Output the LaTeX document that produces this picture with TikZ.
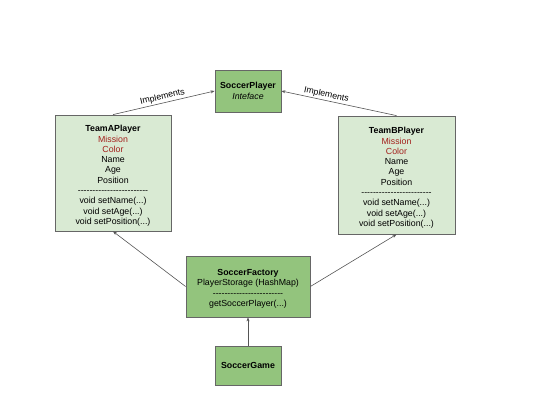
\documentclass[tikz,border=0pt]{standalone}
\usepackage{fontspec}
\setmainfont{Liberation Sans}
\usepackage{tikz}
\usetikzlibrary{arrows.meta,positioning}
\usepackage{xcolor}
\definecolor{lightgreen}{HTML}{D9EAD3}
\definecolor{midgreen}{HTML}{93C47D}
\definecolor{boxgray}{HTML}{666666}
\definecolor{linegray}{HTML}{555555}
\definecolor{fieldred}{HTML}{A3201C}
% a row of plain hyphens (no en-dash ligature)
\newcommand{\sepline}[1]{\foreach \k in {1,...,#1}{-\kern0pt}}

\begin{document}
\begin{tikzpicture}[x=1pt, y=-1pt,
  classbox/.style={draw=boxgray, line width=0.8pt, fill=lightgreen, align=center, inner sep=2pt, font=\fontsize{8.8}{10.3}\selectfont},
  mainbox/.style={classbox, fill=midgreen},
  arrow/.style={-{Stealth[length=4pt, width=3pt]}, draw=linegray, line width=0.6pt},
  every node/.style={font=\fontsize{8.8}{10.3}\selectfont},
]
\useasboundingbox (0,0) rectangle (540,405);

% Interface (top)
\node[mainbox, minimum width=66pt, minimum height=42pt] (player) at (248,91)
  {\textbf{SoccerPlayer}\\ \textit{Inteface}};

% Concrete players
\node[classbox, minimum width=116pt, minimum height=116pt] (teamA) at (113,173)
  {\rule{0pt}{12pt}\textbf{TeamAPlayer}\\ \textcolor{fieldred}{Mission}\\ \textcolor{fieldred}{Color}\\ Name\\ Age\\ Position\\ \sepline{24}\\ void setName(...)\\ void setAge(...)\\ void setPosition(...)};
\node[classbox, minimum width=117pt, minimum height=118pt] (teamB) at (396.5,175)
  {\rule{0pt}{12pt}\textbf{TeamBPlayer}\\ \textcolor{fieldred}{Mission}\\ \textcolor{fieldred}{Color}\\ Name\\ Age\\ Position\\ \sepline{24}\\ void setName(...)\\ void setAge(...)\\ void setPosition(...)};

% Factory and client
\node[mainbox, minimum width=124pt, minimum height=61pt] (factory) at (248,286.5)
  {\rule{0pt}{11pt}\textbf{SoccerFactory}\\ PlayerStorage (HashMap)\\ \sepline{24}\\ getSoccerPlayer(...)};
\node[mainbox, minimum width=66pt, minimum height=39pt] (game) at (248,365.5)
  {\textbf{SoccerGame}};

% Implements arrows
\draw[arrow] (teamA.north) -- node[sloped, above, inner sep=1.5pt] {Implements} (player.west);
\draw[arrow] (teamB.north) -- node[sloped, above, inner sep=1.5pt, pos=0.62] {Implements} (player.east);

% Factory creates players
\draw[arrow] (factory.west) -- (teamA.south);
\draw[arrow] (factory.east) -- (teamB.south);
\draw[arrow] (game.north) -- (factory.south);

\end{tikzpicture}
\end{document}
